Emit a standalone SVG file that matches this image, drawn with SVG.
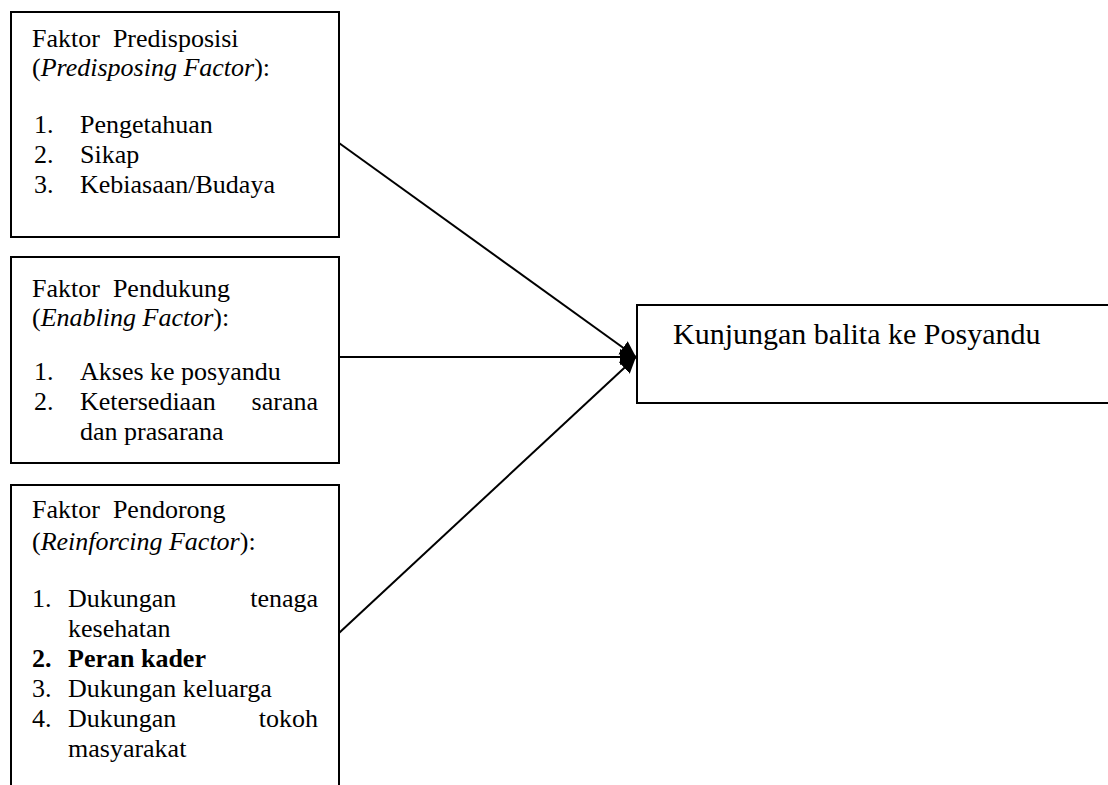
<svg xmlns="http://www.w3.org/2000/svg" width="1108" height="785" viewBox="0 0 1108 785">
<defs>
<style>
.box{fill:#fff;stroke:#000;stroke-width:2}
.t{font-family:"Liberation Serif","Times New Roman",serif;font-size:26px;fill:#000;white-space:pre}
.big{font-size:30px}
.conn{stroke:#000;stroke-width:2;fill:none}
</style>
<marker id="ah" markerWidth="18" markerHeight="18" refX="16" refY="9" orient="auto" markerUnits="userSpaceOnUse">
<path d="M0,1 L16,9 L0,17 Z" fill="#000"/>
</marker>
</defs>
<rect width="1108" height="785" fill="#fff"/>
<g id="connectors">
<line class="conn" x1="339" y1="143" x2="636" y2="357" marker-end="url(#ah)"/>
<line class="conn" x1="339" y1="357" x2="636" y2="357" marker-end="url(#ah)"/>
<line class="conn" x1="339" y1="633" x2="636" y2="357" marker-end="url(#ah)"/>
</g>
<g id="predisposing">
<rect class="box" x="11" y="12" width="328" height="225"/>
<text class="t" x="32" y="47" xml:space="preserve">Faktor  Predisposisi</text>
<text class="t" x="32" y="76">(<tspan font-style="italic">Predisposing Factor</tspan>):</text>
<text class="t" x="34" y="133">1.</text><text class="t" x="80" y="133">Pengetahuan</text>
<text class="t" x="34" y="163">2.</text><text class="t" x="80" y="163">Sikap</text>
<text class="t" x="34" y="193">3.</text><text class="t" x="80" y="193">Kebiasaan/Budaya</text>
</g>
<g id="enabling">
<rect class="box" x="11" y="257" width="328" height="206"/>
<text class="t" x="32" y="297" xml:space="preserve">Faktor  Pendukung</text>
<text class="t" x="32" y="326">(<tspan font-style="italic">Enabling Factor</tspan>):</text>
<text class="t" x="34" y="380">1.</text><text class="t" x="80" y="380">Akses ke posyandu</text>
<text class="t" x="34" y="410">2.</text><text class="t" x="80" y="410">Ketersediaan</text><text class="t" x="318" y="410" text-anchor="end">sarana</text>
<text class="t" x="80" y="440">dan prasarana</text>
</g>
<g id="reinforcing">
<path class="box" d="M11,790 L11,485 L339,485 L339,790"/>
<text class="t" x="32" y="518" xml:space="preserve">Faktor  Pendorong</text>
<text class="t" x="32" y="550">(<tspan font-style="italic">Reinforcing Factor</tspan>):</text>
<text class="t" x="32" y="607">1.</text><text class="t" x="68" y="607">Dukungan</text><text class="t" x="318" y="607" text-anchor="end">tenaga</text>
<text class="t" x="68" y="637">kesehatan</text>
<text class="t" x="32" y="667" font-weight="bold">2.</text><text class="t" x="68" y="667" font-weight="bold">Peran kader</text>
<text class="t" x="32" y="697">3.</text><text class="t" x="68" y="697">Dukungan keluarga</text>
<text class="t" x="32" y="727">4.</text><text class="t" x="68" y="727">Dukungan</text><text class="t" x="318" y="727" text-anchor="end">tokoh</text>
<text class="t" x="68" y="757">masyarakat</text>
</g>
<g id="outcome">
<path class="box" d="M1115,305 L637,305 L637,403 L1115,403"/>
<text class="t big" x="673" y="344">Kunjungan balita ke Posyandu</text>
</g>
</svg>
